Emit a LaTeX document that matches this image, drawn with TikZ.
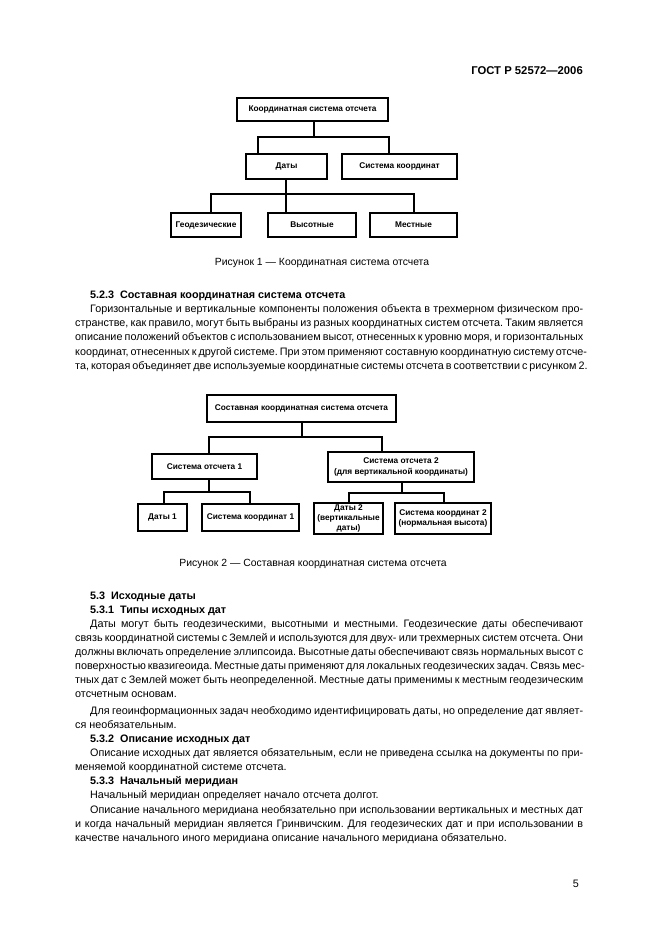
\documentclass[tikz,border=0pt]{standalone}
\usepackage{fontspec}
\setmainfont{Liberation Sans}
\frenchspacing
\newcommand\GLine[4]{\node[txt] (#1) at (#2,#3) {\makebox[\dimexpr583pt-#2pt\relax][s]{#4}};}
\newcommand\GLast[4]{\node[txt] (#1) at (#2,#3) {#4};}
\begin{document}
\frenchspacing
\begin{tikzpicture}[x=1pt,y=-1pt,
  box/.style={draw, line width=1.6pt, fill=white, inner sep=0pt, align=center,
    font=\fontsize{8.3}{10.5}\selectfont\bfseries},
  con/.style={line width=1.6pt},
  txt/.style={inner sep=0pt, anchor=base west, font=\fontsize{10.8}{14}\selectfont},
  hd/.style={txt, font=\fontsize{10.8}{14}\selectfont\bfseries},
  figcap/.style={inner sep=0pt, anchor=base, font=\fontsize{10.4}{12}\selectfont}]
\useasboundingbox (0,0) rectangle (661,936);
\fill[white] (0,0) rectangle (661,936);

% header and page number
\node[inner sep=0pt, anchor=base east, font=\fontsize{11.3}{13}\selectfont\bfseries] (hdr) at (583,75) {ГОСТ Р 52572—2006};
\node[inner sep=0pt, anchor=base east, font=\fontsize{10.8}{13}\selectfont] (pg) at (579,887) {5};

% ---------- Figure 1 ----------
\node[box, minimum width=151pt, minimum height=23pt] (top1) at (312.5,109.5) {Координатная система отсчета};
\node[box, minimum width=81pt, minimum height=25pt] (daty) at (286.5,166.5) {Даты};
\node[box, minimum width=115pt, minimum height=25pt] (sk) at (399.5,166.5) {Система координат};
\node[box, minimum width=70pt, minimum height=24pt] (geo) at (206,225) {Геодезические};
\node[box, minimum width=88pt, minimum height=24pt] (vys) at (312,225) {Высотные};
\node[box, minimum width=87pt, minimum height=24pt] (mest) at (413.5,225) {Местные};

\coordinate (c1) at (314,137);
\coordinate (c1l) at (258,137);
\coordinate (c1r) at (389,137);
\draw[con] (top1.south -| c1) -- (c1);
\draw[con] (c1l |- daty.north) -- (c1l) -- (c1r) -- (c1r |- sk.north);
\coordinate (c2) at (286,194);
\coordinate (c2l) at (211,194);
\coordinate (c2r) at (414,194);
\draw[con] (daty.south -| c2) -- (c2) -- (c2 |- vys.north);
\draw[con] (c2l |- geo.north) -- (c2l) -- (c2r) -- (c2r |- mest.north);

\node[figcap] (cap1) at (322,265.5) {Рисунок 1 — Координатная система отсчета};

% ---------- Section 5.2.3 ----------
\node[hd] (h523) at (90,298) {5.2.3\hspace{0.55em}Составная координатная система отсчета};
\GLine{p1a}{90}{312.5}{Горизонтальные и вертикальные компоненты положения объекта в трехмерном физическом про-}
\GLine{p1b}{75}{326.7}{странстве, как правило, могут быть выбраны из разных координатных систем отсчета. Таким является}
\GLine{p1c}{75}{340.8}{описание положений объектов с использованием высот, отнесенных к уровню моря, и горизонтальных}
\GLine{p1d}{75}{355}{координат, отнесенных к другой системе. При этом применяют составную координатную систему отсче-}
\GLine{p1e}{75}{369}{та, которая объединяет две используемые координатные системы отсчета в соответствии с рисунком 2.}

% ---------- Figure 2 ----------
\node[box, minimum width=189pt, minimum height=27pt] (top2) at (301.5,408.5) {Составная координатная система отсчета};
\node[box, minimum width=105pt, minimum height=25pt] (so1) at (204.5,466.5) {Система отсчета 1};
\node[box, minimum width=146pt, minimum height=30pt] (so2) at (401,467) {Система отсчета 2\\(для вертикальной координаты)};
\node[box, minimum width=49pt, minimum height=27pt] (d1) at (162.5,517.5) {Даты 1};
\node[box, minimum width=97pt, minimum height=27pt] (sk1) at (250.5,517.5) {Система координат 1};
\node[box, minimum width=69pt, minimum height=31pt, font=\fontsize{8.3}{9.6}\selectfont\bfseries] (d2) at (348.5,518.5) {Даты 2\\(вертикальные\\даты)};
\node[box, minimum width=96pt, minimum height=31pt] (sk2) at (443,518.5) {Система координат 2\\(нормальная высота)};

\coordinate (g1) at (302,437);
\coordinate (g1l) at (209,437);
\coordinate (g1r) at (382,437);
\draw[con] (top2.south -| g1) -- (g1);
\draw[con] (g1l |- so1.north) -- (g1l) -- (g1r) -- (g1r |- so2.north);
\coordinate (e1) at (209,492);
\coordinate (e1l) at (164,492);
\coordinate (e1r) at (250,492);
\draw[con] (so1.south -| e1) -- (e1);
\draw[con] (e1l |- d1.north) -- (e1l) -- (e1r) -- (e1r |- sk1.north);
\coordinate (e2) at (402,493);
\coordinate (e2l) at (349,493);
\coordinate (e2r) at (444,493);
\draw[con] (so2.south -| e2) -- (e2);
\draw[con] (e2l |- d2.north) -- (e2l) -- (e2r) -- (e2r |- sk2.north);

\node[figcap] (cap2) at (313,566) {Рисунок 2 — Составная координатная система отсчета};

% ---------- Section 5.3 ----------
\node[hd] (h53) at (90,599) {5.3\hspace{0.55em}Исходные даты};
\node[hd] (h531) at (90,613) {5.3.1\hspace{0.55em}Типы исходных дат};
\GLine{q1a}{90}{627}{Даты могут быть геодезическими, высотными и местными. Геодезические даты обеспечивают}
\GLine{q1b}{75}{641}{связь координатной системы с Землей и используются для двух- или трехмерных систем отсчета. Они}
\GLine{q1c}{75}{655}{должны включать определение эллипсоида. Высотные даты обеспечивают связь нормальных высот с}
\GLine{q1d}{75}{669}{поверхностью квазигеоида. Местные даты применяют для локальных геодезических задач. Связь мес-}
\GLine{q1e}{75}{683}{тных дат с Землей может быть неопределенной. Местные даты применимы к местным геодезическим}
\GLast{q1f}{75}{697}{отсчетным основам.}

\GLine{q2a}{90}{714}{Для геоинформационных задач необходимо идентифицировать даты, но определение дат являет-}
\GLast{q2b}{75}{728}{ся необязательным.}

\node[hd] (h532) at (90,742) {5.3.2\hspace{0.55em}Описание исходных дат};
\GLine{q3a}{90}{756}{Описание исходных дат является обязательным, если не приведена ссылка на документы по при-}
\GLast{q3b}{75}{770.5}{меняемой координатной системе отсчета.}

\node[hd] (h533) at (90,784.5) {5.3.3\hspace{0.55em}Начальный меридиан};
\GLast{q4a}{90}{798.5}{Начальный меридиан определяет начало отсчета долгот.}
\GLine{q5a}{90}{813}{Описание начального меридиана необязательно при использовании вертикальных и местных дат}
\GLine{q5b}{75}{827}{и когда начальный меридиан является Гринвичским. Для геодезических дат и при использовании в}
\GLast{q5c}{75}{841}{качестве начального иного меридиана описание начального меридиана обязательно.}
\end{tikzpicture}
\end{document}
